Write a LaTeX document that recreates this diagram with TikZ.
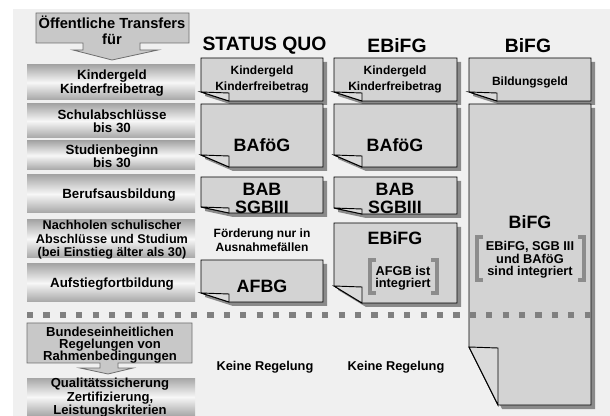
\documentclass[tikz,border=0pt]{standalone}
\usepackage{fontspec}
\setmainfont{Liberation Sans}
\definecolor{bgc}{HTML}{F0F0F0}
\definecolor{cardc}{HTML}{D3D3D3}
\definecolor{flapc}{HTML}{DADADA}
\definecolor{shadc}{HTML}{8A8A8A}
\definecolor{boxc}{HTML}{C8C8C8}
\definecolor{boxline}{HTML}{6E6E6E}
\definecolor{barE}{HTML}{A6A6A6}
\definecolor{barM}{HTML}{F7F7F7}
\definecolor{dotc}{HTML}{808080}
\definecolor{brkc}{HTML}{8C8C8C}
\newcommand\fs[2]{\bfseries\fontsize{#1}{#2}\selectfont}
\newcommand\notecard[6]{%
  \fill[shadc] (#1+4,#2+4) -- (#3+4,#2+4) -- (#3+4,#4+4) -- (#1+#5+4,#4+4) -- (#1+4,#4-#6+4) -- cycle;
  \filldraw[fill=cardc, draw=black, line width=0.7pt] (#1,#2) -- (#3,#2) -- (#3,#4) -- (#1+#5,#4) -- (#1,#4-#6) -- cycle;
  \filldraw[fill=flapc, draw=black, line width=0.7pt] (#1,#4-#6) -- (#1+#5,#4-#6+1) -- (#1+#5,#4) -- cycle;}
\newcommand\bracketpair[4]{%
  \draw[brk] (#1+6,#3) -- (#1,#3) -- (#1,#4) -- (#1+6,#4);
  \draw[brk] (#2-6,#3) -- (#2,#3) -- (#2,#4) -- (#2-6,#4);}
\tikzset{
  lbl/.style={font=\fs{10}{10}, align=center, inner sep=0pt},
  lblN/.style={font=\fs{9.5}{10}, align=center, inner sep=0pt},
  lblB/.style={font=\fs{9.8}{9.2}, align=center, inner sep=0pt},
  lblQ/.style={font=\fs{9.8}{8.4}, align=center, inner sep=0pt},
  hdr/.style={font=\fs{14.5}{15}, inner sep=0pt},
  big/.style={font=\fs{13.4}{14}, align=center, inner sep=0pt},
  small/.style={font=\fs{9}{12}, align=center, inner sep=0pt},
  small2/.style={font=\fs{9}{10.5}, align=center, inner sep=0pt},
  brtext/.style={font=\fs{9.6}{9.4}, align=center, inner sep=0pt},
  keine/.style={font=\fs{9.6}{10}, inner sep=0pt},
  brk/.style={draw=brkc, line width=2.4pt},
  arrowbox/.style={fill=boxc, draw=boxline, line width=0.6pt},
  bar/.style={top color=barE, bottom color=barE, middle color=barM},
}
\begin{document}
\begin{tikzpicture}[x=0.75pt,y=-0.75pt]
\useasboundingbox (0,0) rectangle (610,416);
\fill[white] (0,0) rectangle (610,416);
\fill[bgc] (13,9) rectangle (610,416);

% top arrow box
\filldraw[arrowbox] (36,13) -- (189,13) -- (189,43) -- (140,43) -- (140,50) -- (158,50) -- (112,60) -- (73,50) -- (83,50) -- (83,43) -- (36,43) -- cycle;
\node[font=\fs{11}{12}, align=center, inner sep=0pt] (tr) at (112,30) {Öffentliche Transfers\\für};

% left gradient bars
\foreach \a/\b in {65/100, 104/138, 141/170, 175/213, 220/258, 264/302, 378/416}
  \shade[bar] (27,\a) rectangle (195,\b);

% lower arrow box
\filldraw[arrowbox] (27,323) -- (192,323) -- (192,363) -- (118,363) -- (118,368) -- (133,368) -- (108,374) -- (80,368) -- (100,368) -- (100,363) -- (27,363) -- cycle;

% cards: STATUS QUO
\notecard{201}{58}{323}{101}{28}{9}
\notecard{201}{104}{323}{167}{28}{12}
\notecard{201}{177}{323}{213}{28}{6}
\notecard{201}{260}{323}{302}{28}{9}
% EBiFG
\notecard{334}{58}{457}{101}{28}{9}
\notecard{334}{104}{457}{167}{28}{12}
\notecard{334}{177}{457}{214}{28}{6}
\notecard{334}{223}{457}{303}{28}{17}
% BiFG
\notecard{469}{58}{591}{101}{28}{9}
\notecard{469}{104}{591}{405}{29}{58}

% dotted separator
\draw[dotc, line width=4.9pt, dash pattern=on 4.7pt off 7.6pt] (27,315) -- (592,315);

% brackets
\bracketpair{370}{437}{260}{293}
\bracketpair{477}{584}{237}{280}

% left column texts
\node[lbl] (l1) at (112,83) {Kindergeld\\Kinderfreibetrag};
\node[lbl] (l2) at (112,121) {Schulabschlüsse\\bis 30};
\node[lbl] (l3) at (112,156) {Studienbeginn\\bis 30};
\node[lbl] (l4) at (119,195) {Berufsausbildung};
\node[lblN] (l5) at (112,240) {Nachholen schulischer\\Abschlüsse und Studium\\(bei Einstieg älter als 30)};
\node[lbl] (l6) at (112,284) {Aufstiegfortbildung};
\node[lblB] (l7) at (110,345) {Bundeseinheitlichen\\Regelungen von\\Rahmenbedingungen};
\node[lblQ] (l8) at (110,398) {Qualitätssicherung\\Zertifizierung,\\Leistungskriterien};

% headers
\node[hdr] (h1) at (264.5,46) {STATUS QUO};
\node[hdr] (h2) at (397,46) {EBiFG};
\node[hdr] (h3) at (528,46) {BiFG};

% STATUS QUO texts
\node[small] (s1) at (262,79) {Kindergeld\\Kinderfreibetrag};
\node[big] (s2) at (262,145) {BAföG};
\node[big] (s3) at (262,198.5) {BAB\\SGBIII};
\node[small2] (s4) at (262,240) {Förderung nur in\\Ausnahmefällen};
\node[big] (s5) at (262,286) {AFBG};
\node[keine] (s6) at (265,367) {Keine Regelung};

% EBiFG texts
\node[small] (e1) at (395,79) {Kindergeld\\Kinderfreibetrag};
\node[big] (e2) at (395,145) {BAföG};
\node[big] (e3) at (395,198.5) {BAB\\SGBIII};
\node[big] (e4) at (395,238) {EBiFG};
\node[brtext] (e5) at (403,278) {AFGB ist\\integriert};
\node[keine] (e6) at (396,367) {Keine Regelung};

% BiFG texts
\node[small] (b1) at (530,82) {Bildungsgeld};
\node[big] (b2) at (530,222) {BiFG};
\node[brtext] (b3) at (530,260) {EBiFG, SGB III\\und BAföG\\sind integriert};
\end{tikzpicture}
\end{document}
